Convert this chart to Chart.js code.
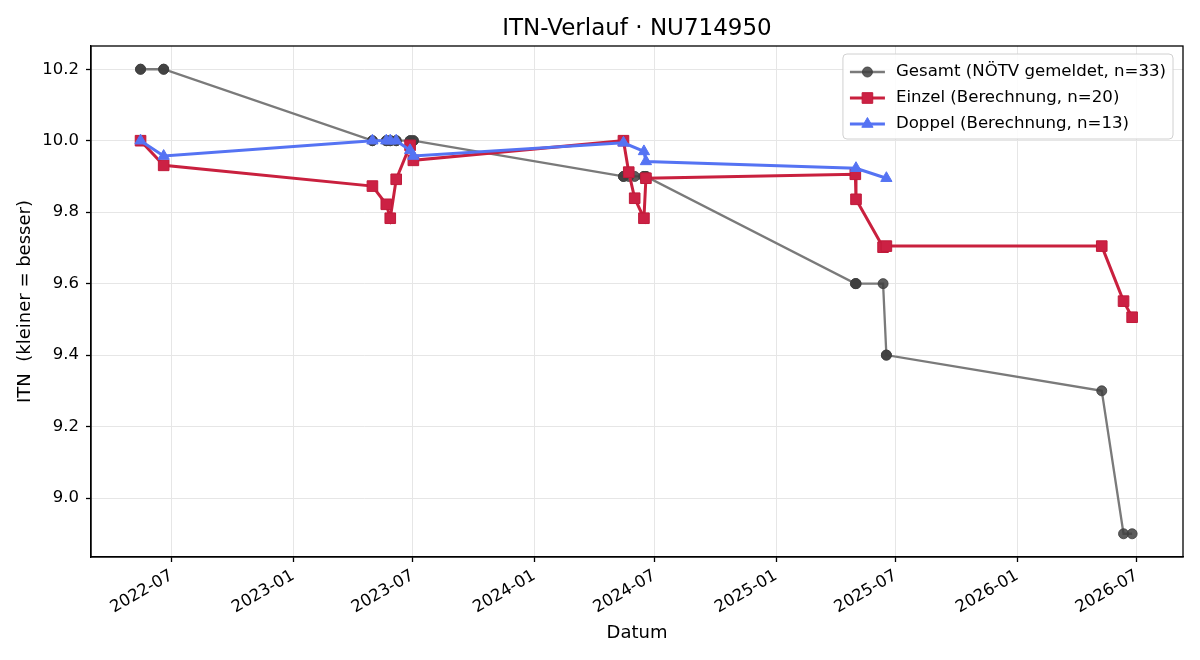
<!DOCTYPE html>
<html>
<head>
<meta charset="utf-8">
<title>ITN-Verlauf</title>
<script src="https://cdn.jsdelivr.net/npm/chart.js@4.4.1/dist/chart.umd.min.js"></script>
<style>
  html, body { margin: 0; padding: 0; background: #fff; }
  #wrap { width: 1200px; height: 660px; }
</style>
</head>
<body>
<div id="wrap"><canvas id="itnChart" width="1200" height="660"></canvas></div>
<script>
// --- data ---
const gesamtDates = [
  '2022-05-15','2022-05-15','2022-06-19','2022-06-19',
  '2023-05-01','2023-05-01','2023-05-22','2023-05-22','2023-05-28','2023-05-28',
  '2023-06-06','2023-06-06','2023-06-27','2023-06-27','2023-07-02','2023-07-02',
  '2024-05-15','2024-05-15','2024-05-23','2024-06-01','2024-06-15','2024-06-15',
  '2024-06-18','2024-06-18',
  '2025-05-01','2025-05-02','2025-05-02','2025-06-12','2025-06-17','2025-06-17',
  '2026-05-09','2026-06-11','2026-06-24'
];
const gesamtValues = [
  10.2, 10.2, 10.2, 10.2,
  10.0, 10.0, 10.0, 10.0, 10.0, 10.0,
  10.0, 10.0, 10.0, 10.0, 10.0, 10.0,
  9.9, 9.9, 9.9, 9.9, 9.9, 9.9,
  9.9, 9.9,
  9.6, 9.6, 9.6, 9.6, 9.4, 9.4,
  9.3, 8.9, 8.9
];

const einzelDates = [
  '2022-05-15','2022-06-19',
  '2023-05-01','2023-05-22','2023-05-28','2023-06-06','2023-06-27','2023-07-02',
  '2024-05-15','2024-05-23','2024-06-01','2024-06-15','2024-06-18',
  '2025-05-01','2025-05-02','2025-06-12','2025-06-17',
  '2026-05-09','2026-06-11','2026-06-24'
];
const einzelValues = [
  10.0, 9.931,
  9.873, 9.822, 9.783, 9.892, 9.987, 9.945,
  10.0, 9.912, 9.839, 9.783, 9.895,
  9.906, 9.836, 9.702, 9.705,
  9.705, 9.551, 9.506
];

const doppelDates = [
  '2022-05-15','2022-06-19',
  '2023-05-01','2023-05-22','2023-05-28','2023-06-06','2023-06-27','2023-07-02',
  '2024-05-15','2024-06-15','2024-06-18',
  '2025-05-02','2025-06-17'
];
const doppelValues = [
  10.0, 9.957,
  10.0, 10.0, 10.0, 10.0, 9.973, 9.957,
  9.994, 9.97, 9.942,
  9.923, 9.895
];

const xTickLabels = ['2022-07','2023-01','2023-07','2024-01','2024-07','2025-01','2025-07','2026-01','2026-07'];
const yTicks = [9.0, 9.2, 9.4, 9.6, 9.8, 10.0, 10.2];

const seriesLabels = [
  'Gesamt (NÖTV gemeldet, n=33)',
  'Einzel (Berechnung, n=20)',
  'Doppel (Berechnung, n=13)'
];

// --- helpers ---
const toTime = s => Date.parse(s);
const toPoints = (dates, vals) => dates.map((d, i) => ({ x: toTime(d), y: vals[i] }));
const fmtMonth = v => {
  const d = new Date(v);
  return d.getUTCFullYear() + '-' + String(d.getUTCMonth() + 1).padStart(2, '0');
};

const FONT = "'DejaVu Sans', 'Liberation Sans', sans-serif";
Chart.defaults.font.family = FONT;
Chart.defaults.color = '#000';

// top + right spine
const framePlugin = {
  id: 'frame',
  afterDatasetsDraw(chart) {
    const { ctx, chartArea: a } = chart;
    ctx.save();
    ctx.strokeStyle = '#000';
    ctx.lineWidth = 1.3;
    ctx.strokeRect(a.left, a.top, a.right - a.left, a.bottom - a.top);
    ctx.restore();
  }
};

// matplotlib-like legend box in the upper right
const legendBoxPlugin = {
  id: 'legendBox',
  afterDraw(chart) {
    const { ctx, chartArea: a } = chart;
    const sets = chart.data.datasets;
    ctx.save();
    ctx.font = '16.6px ' + FONT;
    let maxW = 0;
    sets.forEach(ds => { maxW = Math.max(maxW, ctx.measureText(ds.label).width); });
    const rowH = 26;
    const w = maxW + 60;
    const h = rowH * sets.length + 7;
    const x0 = a.right - 10 - w;
    const y0 = a.top + 8;

    ctx.beginPath();
    ctx.roundRect(x0, y0, w, h, 4);
    ctx.fillStyle = 'rgba(255,255,255,0.85)';
    ctx.fill();
    ctx.strokeStyle = '#d0d0d0';
    ctx.lineWidth = 1;
    ctx.stroke();

    sets.forEach((ds, i) => {
      const y = y0 + 18 + i * rowH;
      ctx.strokeStyle = ds.borderColor;
      ctx.lineWidth = ds.borderWidth;
      ctx.beginPath();
      ctx.moveTo(x0 + 7, y);
      ctx.lineTo(x0 + 42, y);
      ctx.stroke();
      ctx.fillStyle = ds.pointBackgroundColor;
      ctx.strokeStyle = ds.pointBorderColor;
      ctx.lineWidth = ds.pointBorderWidth;
      Chart.helpers.drawPoint(ctx, {
        pointStyle: ds.pointStyle,
        radius: ds.pointRadius,
        rotation: 0,
        borderWidth: ds.pointBorderWidth
      }, x0 + 24.5, y);
      ctx.fillStyle = '#000';
      ctx.textBaseline = 'middle';
      ctx.textAlign = 'left';
      ctx.fillText(ds.label, x0 + 53, y);
    });
    ctx.restore();
  }
};

new Chart(document.getElementById('itnChart'), {
  type: 'line',
  data: {
    datasets: [
      {
        label: seriesLabels[0],
        data: toPoints(gesamtDates, gesamtValues),
        borderColor: '#7a7a7a',
        borderWidth: 2.3,
        pointStyle: 'circle',
        pointRadius: 5,
        pointBackgroundColor: 'rgba(64,64,64,0.85)',
        pointBorderColor: 'rgba(64,64,64,0.85)',
        pointBorderWidth: 1,
        tension: 0,
        order: 3
      },
      {
        label: seriesLabels[1],
        data: toPoints(einzelDates, einzelValues),
        borderColor: '#c9203e',
        borderWidth: 3,
        pointStyle: 'rect',
        pointRadius: 7.5,
        pointBackgroundColor: '#cc2144',
        pointBorderColor: '#c01a3a',
        pointBorderWidth: 1,
        tension: 0,
        order: 2
      },
      {
        label: seriesLabels[2],
        data: toPoints(doppelDates, doppelValues),
        borderColor: '#5573f3',
        borderWidth: 3,
        pointStyle: 'triangle',
        pointRadius: 6.5,
        pointBackgroundColor: '#5573f3',
        pointBorderColor: '#5573f3',
        pointBorderWidth: 1,
        tension: 0,
        order: 1
      }
    ]
  },
  options: {
    responsive: false,
    animation: false,
    events: [],
    layout: { padding: { left: 0, right: 17, top: 0, bottom: 0 } },
    plugins: {
      legend: { display: false },
      tooltip: { enabled: false },
      title: {
        display: true,
        fullSize: false,
        text: 'ITN-Verlauf · NU714950',
        color: '#000',
        font: { size: 23, weight: 'normal', family: FONT },
        padding: { top: 15, bottom: 3.4 }
      }
    },
    scales: {
      x: {
        type: 'linear',
        min: toTime('2022-03-01'),
        max: toTime('2026-09-09'),
        afterBuildTicks: s => { s.ticks = xTickLabels.map(l => ({ value: toTime(l + '-01') })); },
        afterFit: s => { s.height = 103; },
        ticks: {
          callback: v => fmtMonth(v),
          minRotation: 30,
          maxRotation: 30,
          autoSkip: false,
          padding: 4,
          font: { size: 16.5 }
        },
        grid: { color: '#e6e6e6', lineWidth: 1, tickColor: '#000', tickLength: 5, tickWidth: 1.3 },
        border: { color: '#000', width: 1.3 },
        title: {
          display: true,
          text: 'Datum',
          font: { size: 18 },
          padding: { top: 0, bottom: 16 }
        }
      },
      y: {
        min: 8.835,
        max: 10.265,
        afterBuildTicks: s => { s.ticks = yTicks.map(v => ({ value: v })); },
        afterFit: s => { s.width = 91; },
        ticks: {
          callback: v => v.toFixed(1),
          padding: 7,
          font: { size: 16.5 }
        },
        grid: { color: '#e6e6e6', lineWidth: 1, tickColor: '#000', tickLength: 5, tickWidth: 1.3 },
        border: { color: '#000', width: 1.3 },
        title: {
          display: true,
          text: 'ITN  (kleiner = besser)',
          font: { size: 18 },
          padding: { top: 15, bottom: 0 }
        }
      }
    }
  },
  plugins: [framePlugin, legendBoxPlugin]
});
</script>
</body>
</html>
